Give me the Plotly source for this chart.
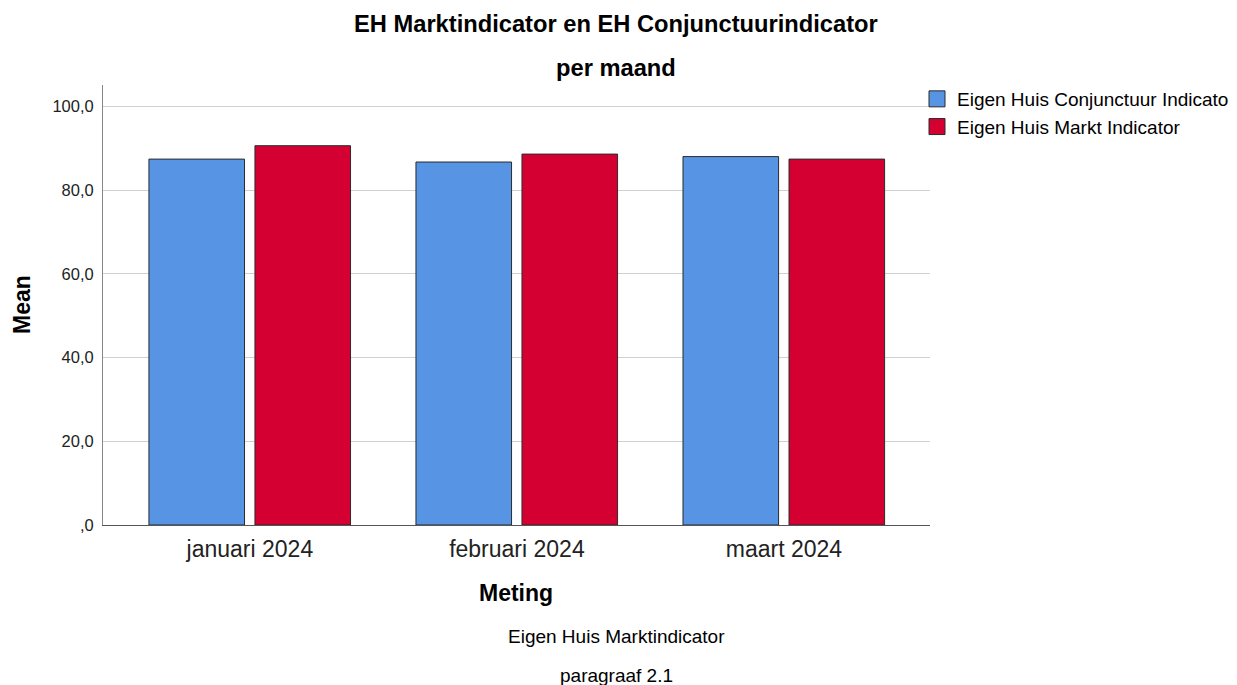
import plotly.graph_objects as go

months = ["januari 2024", "februari 2024", "maart 2024"]
conjunctuur = [87.4, 86.7, 88.0]
markt = [90.6, 88.6, 87.4]
series_names = ["Eigen Huis Conjunctuur Indicator", "Eigen Huis Markt Indicator"]
y_tickvals = [0, 20, 40, 60, 80, 100]
y_ticktext = [",0", "20,0", "40,0", "60,0", "80,0", "100,0"]

FONT = "Liberation Sans, Arial, sans-serif"
BLUE = "#5794E3"
RED = "#D50032"
EDGE = "#2b2b2b"

fig = go.Figure()
fig.add_trace(go.Bar(
    x=list(range(len(months))), y=conjunctuur, name=series_names[0],
    marker=dict(color=BLUE, line=dict(color=EDGE, width=1)),
    width=0.358, offset=-0.378, showlegend=False,
))
fig.add_trace(go.Bar(
    x=list(range(len(months))), y=markt, name=series_names[1],
    marker=dict(color=RED, line=dict(color=EDGE, width=1)),
    width=0.358, offset=0.019, showlegend=False,
))
# legend entries (square swatches like the reference)
for nm, col in zip(series_names, [BLUE, RED]):
    fig.add_trace(go.Scatter(
        x=[None], y=[None], mode="markers", name=nm,
        marker=dict(symbol="square", size=16, color=col, line=dict(color=EDGE, width=1)),
        showlegend=True, hoverinfo="skip",
    ))

# body of the html page has an 8px margin -> compensate; figure is a bit wider
# than the window so the legend (cut at the right edge, as in the reference) fits.
OFF = 8
L, R, T, B = 103, 930, 85, 525  # target page pixel positions of the plot area
W, H = 1270, 685
pw, ph = R - L, B - T
ml, mt = L - OFF, T - OFF
mr, mb = W - ml - pw, H - mt - ph

def px(xp):
    return (xp - L) / pw

def py(yp):
    return (B - yp) / ph

fig.update_layout(
    width=W, height=H,
    margin=dict(l=ml, r=mr, t=mt, b=mb, pad=0),
    paper_bgcolor="white", plot_bgcolor="white",
    font=dict(family=FONT, color="#000000"),
    showlegend=True,
    legend=dict(
        x=px(917), y=py(80), xanchor="left", yanchor="top",
        font=dict(size=19, family=FONT, color="#000"),
        itemwidth=30, tracegroupgap=0, bgcolor="rgba(0,0,0,0)",
        traceorder="normal",
    ),
    xaxis=dict(
        range=[-0.55, 2.547],
        tickvals=list(range(len(months))), ticktext=months,
        tickfont=dict(size=23, family=FONT, color="#222"),
        showline=True, linecolor="#555", linewidth=1,
        showgrid=False, zeroline=False, ticks="", ticklabelstandoff=3,
    ),
    yaxis=dict(
        range=[0, 105.1],
        tickvals=y_tickvals, ticktext=y_ticktext,
        tickfont=dict(size=16.5, family=FONT, color="#222"),
        showline=True, linecolor="#888", linewidth=1,
        showgrid=True, gridcolor="#D0D0D0", gridwidth=1,
        zeroline=False, ticks="", ticklabelstandoff=5,
    ),
)

ann = [
    dict(text="<b>EH Marktindicator en EH Conjunctuurindicator</b>", x=px(616), y=py(24), size=23.7),
    dict(text="<b>per maand</b>", x=px(616), y=py(68), size=23.7),
    dict(text="<b>Meting</b>", x=px(516), y=py(593), size=23),
    dict(text="Eigen Huis Marktindicator", x=px(616), y=py(637), size=19),
    dict(text="paragraaf 2.1", x=px(616), y=py(675), size=19),
]
for a in ann:
    fig.add_annotation(text=a["text"], x=a["x"], y=a["y"], xref="paper", yref="paper",
                       xanchor="center", yanchor="middle", showarrow=False,
                       font=dict(size=a["size"], family=FONT, color="#000"))
fig.add_annotation(text="<b>Mean</b>", x=px(22), y=py(305), xref="paper", yref="paper",
                   xanchor="center", yanchor="middle", showarrow=False, textangle=-90,
                   font=dict(size=23, family=FONT, color="#000"))

fig.write_html("out.html")
